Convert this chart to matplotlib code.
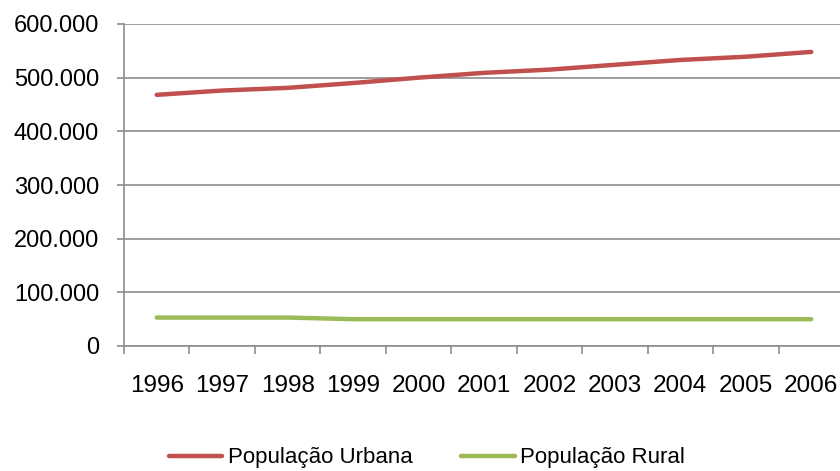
import matplotlib
matplotlib.use("Agg")
import matplotlib.pyplot as plt
from matplotlib.ticker import FuncFormatter, FixedLocator

years = ["1996", "1997", "1998", "1999", "2000", "2001", "2002", "2003", "2004", "2005", "2006"]
urbana = [468000, 476000, 481000, 490000, 500000, 509000, 515000, 524000, 533000, 539000, 548000]
rural = [53000, 53000, 53000, 50000, 50000, 50000, 50000, 50000, 50000, 50000, 50000]
series_names = ["População Urbana", "População Rural"]
y_ticks = [0, 100000, 200000, 300000, 400000, 500000, 600000]

plt.rcParams['font.family'] = ['Liberation Sans', 'DejaVu Sans']

fig = plt.figure(figsize=(8.4, 4.71), dpi=100)
ax = fig.add_axes([124/840, 1-346/471, 720/840, (346-24)/471])

x = list(range(len(years)))
ax.plot(x, urbana, color='#C0504D', lw=3.2, solid_capstyle='round', label=series_names[0])
ax.plot(x, rural, color='#9BBB59', lw=3.2, solid_capstyle='round', label=series_names[1])

ax.set_xlim(-0.5, len(years) - 0.5)
ax.set_ylim(0, 600000)
ax.set_yticks(y_ticks)
ax.yaxis.set_major_formatter(FuncFormatter(lambda v, p: f"{int(v):,}".replace(",", ".")))
ax.grid(axis='y', color='#8C8C8C', lw=1.2)
ax.set_axisbelow(True)

ax.set_xticks(x)
ax.set_xticklabels(years)
ax.xaxis.set_minor_locator(FixedLocator([i - 0.5 for i in range(len(years) + 1)]))
ax.tick_params(axis='x', which='major', length=0, pad=21, labelsize=17.5)
ax.tick_params(axis='x', which='minor', length=6, width=1.2, color='#8C8C8C', direction='out')
ax.tick_params(axis='y', length=5, width=1.2, color='#8C8C8C', pad=13, labelsize=17)

for s in ['top', 'right']:
    ax.spines[s].set_visible(False)
for s in ['left', 'bottom']:
    ax.spines[s].set_color('#8C8C8C')
    ax.spines[s].set_linewidth(1.2)

fig.legend(loc='center', bbox_to_anchor=(427/840, 0.028), ncol=2, frameon=False,
           fontsize=16, handlelength=2.4, handletextpad=0.25, columnspacing=2.2)

fig.savefig("out.png", dpi=100)
